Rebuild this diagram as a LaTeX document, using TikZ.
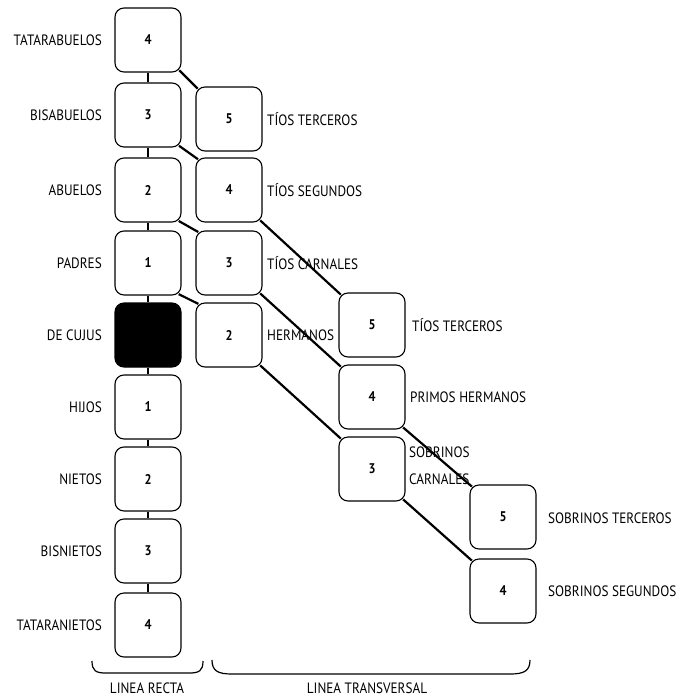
\documentclass[tikz,border=0pt]{standalone}
\usepackage{fontspec}
\setmainfont{PT Sans}[FakeStretch=0.88]
\tikzstyle{grado} = [draw, line width=1.1pt, rounded corners=9pt, minimum width=66pt, minimum height=64pt, inner sep=0pt, font=\bfseries\fontsize{14}{16}\selectfont]
\tikzstyle{cujus} = [style=grado, fill=black]
\tikzstyle{nombre} = [font=\fontsize{15}{17}\selectfont, inner sep=0pt]
\tikzstyle{linea} = [style={line width=2.2pt}]
\tikzstyle{diag} = [style={line width=2.2pt, shorten <=-3.2pt, shorten >=-3.2pt}]
\tikzstyle{llave} = [style={line width=1.2pt}]

\begin{document}
\begin{tikzpicture}[x=1pt,y=-1pt]
    \useasboundingbox (0,0) rectangle (677,696);
    \begin{scope}
      % linea recta
      \node[grado] (ta) at (148,40) {4};
      \node[grado] (bi) at (148,115) {3};
      \node[grado] (ab) at (148,190) {2};
      \node[grado] (pa) at (148,263) {1};
      \node[cujus] (dc) at (148,335) {};
      \node[grado] (hi) at (148,407) {1};
      \node[grado] (ni) at (148,479) {2};
      \node[grado] (bn) at (148,551) {3};
      \node[grado] (tn) at (148,625) {4};
      \node[nombre, anchor=east] (ta-n) at (102,40) {TATARABUELOS};
      \node[nombre, anchor=east] (bi-n) at (102,115) {BISABUELOS};
      \node[nombre, anchor=east] (ab-n) at (102,190) {ABUELOS};
      \node[nombre, anchor=east] (pa-n) at (102,263) {PADRES};
      \node[nombre, anchor=east] (dc-n) at (102,335) {DE CUJUS};
      \node[nombre, anchor=east] (hi-n) at (102,407) {HIJOS};
      \node[nombre, anchor=east] (ni-n) at (102,479) {NIETOS};
      \node[nombre, anchor=east] (bn-n) at (102,551) {BISNIETOS};
      \node[nombre, anchor=east] (tn-n) at (102,625) {TATARANIETOS};
      \draw[linea] (ta) edge (bi);
      \draw[linea] (bi) edge (ab);
      \draw[linea] (ab) edge (pa);
      \draw[linea] (pa) edge (dc);
      \draw[linea] (dc) edge (hi);
      \draw[linea] (hi) edge (ni);
      \draw[linea] (ni) edge (bn);
      \draw[linea] (bn) edge (tn);
    \end{scope}
    \begin{scope}
      % linea transversal
      \node[grado] (tt) at (229,119) {5};
      \node[grado] (ts) at (229,190) {4};
      \node[grado] (tc) at (229,263) {3};
      \node[grado] (he) at (229,335) {2};
      \node[grado] (tt3) at (372,325) {5};
      \node[grado] (ph) at (372,397) {4};
      \node[grado] (sc) at (372,469) {3};
      \node[grado] (st) at (503,517) {5};
      \node[grado] (ss) at (503,591) {4};
      \node[nombre, anchor=west] (tt-n) at (267,119) {TÍOS TERCEROS};
      \node[nombre, anchor=west] (ts-n) at (267,190) {TÍOS SEGUNDOS};
      \node[nombre, anchor=west] (tc-n) at (267,263) {TÍOS CARNALES};
      \node[nombre, anchor=west] (he-n) at (267,335) {HERMANOS};
      \node[nombre, anchor=west] (tt3-n) at (412,325) {TÍOS TERCEROS};
      \node[nombre, anchor=west] (ph-n) at (410,397) {PRIMOS HERMANOS};
      \node[nombre, anchor=west, align=left] (sc-n) at (409,466) {SOBRINOS\\[10pt]CARNALES};
      \node[nombre, anchor=west] (st-n) at (548,518) {SOBRINOS TERCEROS};
      \node[nombre, anchor=west] (ss-n) at (548,591) {SOBRINOS SEGUNDOS};
      \draw[diag] (ta.south east) edge (tt.north west);
      \draw[diag] (bi.south east) edge (ts.north west);
      \draw[diag] (ab.south east) edge (tc.north west);
      \draw[diag] (pa.south east) edge (he.north west);
      \draw[diag] (ts.south east) edge (tt3.north west);
      \draw[diag] (tc.south east) edge (ph.north west);
      \draw[diag] (he.south east) edge (sc.north west);
      \draw[diag] (ph.south east) edge (st.north west);
      \draw[diag] (sc.south east) edge (ss.north west);
    \end{scope}
    % llaves
    \draw[llave] (92,661) .. controls (92,671) and (96,673) .. (106,673) -- (189,673) .. controls (199,673) and (203,671) .. (203,661);
    \draw[llave] (212,660) .. controls (212,671) and (218,674) .. (232,674) -- (510,674) .. controls (524,674) and (530,671) .. (530,660);
    \node[nombre] (recta) at (147,688) {LINEA RECTA};
    \node[nombre] (transv) at (367,688) {LINEA TRANSVERSAL};
  \end{tikzpicture}
\end{document}
